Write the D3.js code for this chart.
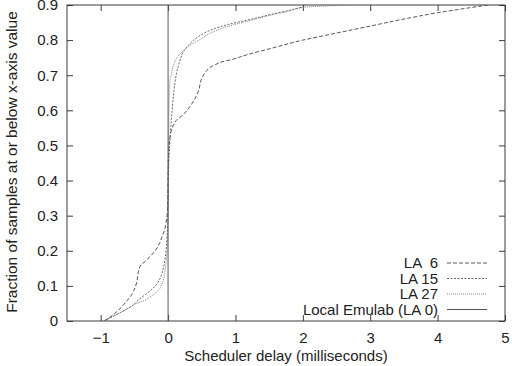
<!DOCTYPE html>
<html><head><meta charset="utf-8">
<script src="https://cdn.jsdelivr.net/npm/d3@7"></script>
<style>
body{margin:0;background:#fff;}
svg text{font-family:"Liberation Sans",Arial,sans-serif;fill:#222;}
</style></head><body>
<svg id="c" width="512" height="366"></svg>
<script>
const xTicks = [-1,0,1,2,3,4,5];
const yTicks = [0,0.1,0.2,0.3,0.4,0.5,0.6,0.7,0.8,0.9];
const seriesNames = ["LA  6","LA 15","LA 27","Local Emulab (LA 0)"];

const la6X = [-0.95,-0.8,-0.69,-0.6,-0.54,-0.49,-0.46,-0.44,-0.4,-0.34,-0.26,-0.19,-0.13,-0.09,-0.05,-0.03,-0.015,-0.005,0,0.006,0.02,0.045,0.08,0.14,0.21,0.28,0.34,0.39,0.43,0.46,0.48,0.51,0.56,0.62,0.7,0.8,0.95,1.2,1.5,2.0,2.5,3.0,3.5,4.0,4.4,4.75];
const la6Y = [0,0.02,0.04,0.06,0.075,0.095,0.115,0.14,0.16,0.17,0.185,0.2,0.22,0.24,0.26,0.28,0.3,0.33,0.4,0.47,0.51,0.54,0.558,0.575,0.585,0.6,0.615,0.63,0.645,0.66,0.68,0.695,0.71,0.722,0.73,0.738,0.745,0.76,0.775,0.80,0.82,0.84,0.86,0.878,0.89,0.9];

const la15X = [-0.95,-0.8,-0.65,-0.52,-0.44,-0.34,-0.24,-0.15,-0.09,-0.05,-0.03,-0.015,-0.005,0,0.01,0.03,0.06,0.09,0.12,0.15,0.19,0.23,0.3,0.45,0.65,0.9,1.2,1.5,1.8,2.0,2.05];
const la15Y = [0,0.015,0.03,0.045,0.06,0.075,0.09,0.11,0.136,0.17,0.2,0.24,0.28,0.35,0.45,0.52,0.6,0.66,0.70,0.725,0.75,0.768,0.785,0.81,0.83,0.845,0.858,0.872,0.885,0.895,0.9];

const la27X = [-0.95,-0.8,-0.65,-0.5,-0.34,-0.22,-0.14,-0.09,-0.06,-0.04,-0.025,-0.012,-0.005,0,0.01,0.025,0.045,0.07,0.11,0.16,0.21,0.3,0.46,0.65,0.9,1.2,1.5,1.8,2.0,2.3,2.7];
const la27Y = [0,0.015,0.03,0.047,0.06,0.075,0.088,0.105,0.126,0.15,0.175,0.21,0.25,0.33,0.55,0.68,0.70,0.722,0.742,0.757,0.767,0.782,0.80,0.822,0.84,0.855,0.87,0.883,0.893,0.897,0.9];

const localX = [0,0];
const localY = [0,1];

const svg = d3.select("#c");
const L=67,R=505,T=5,B=321;
const x = d3.scaleLinear().domain([-1.5,5]).range([L,R]);
const y = d3.scaleLinear().domain([0,0.9]).range([B,T]);
const ink="#3a3a3a";
const FS="15px";

svg.append("defs").append("clipPath").attr("id","clip").append("rect")
  .attr("x",L).attr("y",T).attr("width",R-L).attr("height",B-T);

const ax = (g)=>{g.select(".domain").remove(); g.selectAll("line").attr("stroke",ink); g.selectAll("text").attr("font-size",FS).attr("fill","#222");};
svg.append("g").attr("transform",`translate(0,${B})`).call(d3.axisBottom(x).tickValues(xTicks).tickSize(-6).tickPadding(11).tickFormat(d3.format("d"))).call(ax);
svg.append("g").attr("transform",`translate(0,${T})`).call(d3.axisTop(x).tickValues(xTicks).tickSize(-6).tickFormat("")).call(ax);
svg.append("g").attr("transform",`translate(${L},0)`).call(d3.axisLeft(y).tickValues(yTicks).tickSize(-6).tickPadding(9).tickFormat(d=>d===0?"0":d3.format(".1f")(d))).call(ax);
svg.append("g").attr("transform",`translate(${R},0)`).call(d3.axisRight(y).tickValues(yTicks).tickSize(-6).tickFormat("")).call(ax);

svg.append("rect").attr("x",L).attr("y",T).attr("width",R-L).attr("height",B-T)
  .attr("fill","none").attr("stroke",ink).attr("stroke-width",1);

const series = [
  {name:seriesNames[0], xs:la6X, ys:la6Y, dash:"4,2", color:"#444", w:0.9},
  {name:seriesNames[1], xs:la15X, ys:la15Y, dash:"2,1.5", color:"#555", w:0.9},
  {name:seriesNames[2], xs:la27X, ys:la27Y, dash:"1,1", color:"#777", w:0.9},
  {name:seriesNames[3], xs:localX, ys:localY, dash:null, color:"#555", w:1}
];
const line = d3.line().x(d=>x(d[0])).y(d=>y(d[1])).curve(d3.curveMonotoneY);
const plot = svg.append("g").attr("clip-path","url(#clip)");
series.forEach(s=>{
  const pts = s.xs.map((v,i)=>[v,s.ys[i]]);
  plot.append("path").attr("d", s.dash===null ? d3.line().x(d=>x(d[0])).y(d=>y(d[1]))(pts) : line(pts))
    .attr("fill","none").attr("stroke",s.color).attr("stroke-width",s.w)
    .attr("stroke-dasharray",s.dash);
});

const legY = [263,278.5,294,309.5];
series.forEach((s,i)=>{
  svg.append("text").attr("x",438).attr("y",legY[i]).attr("dy","0.35em")
    .attr("text-anchor","end").attr("font-size",FS).style("white-space","pre").text(s.name);
  svg.append("line").attr("x1",447).attr("x2",487).attr("y1",legY[i]).attr("y2",legY[i])
    .attr("stroke",s.color).attr("stroke-width",s.w).attr("stroke-dasharray",s.dash);
});

svg.append("text").attr("x",286).attr("y",361).attr("text-anchor","middle")
  .attr("font-size",FS).text("Scheduler delay (milliseconds)");
svg.append("text").attr("transform","translate(17,162) rotate(-90)").attr("text-anchor","middle")
  .attr("font-size","15.5px").text("Fraction of samples at or below x-axis value");
</script>
</body></html>
